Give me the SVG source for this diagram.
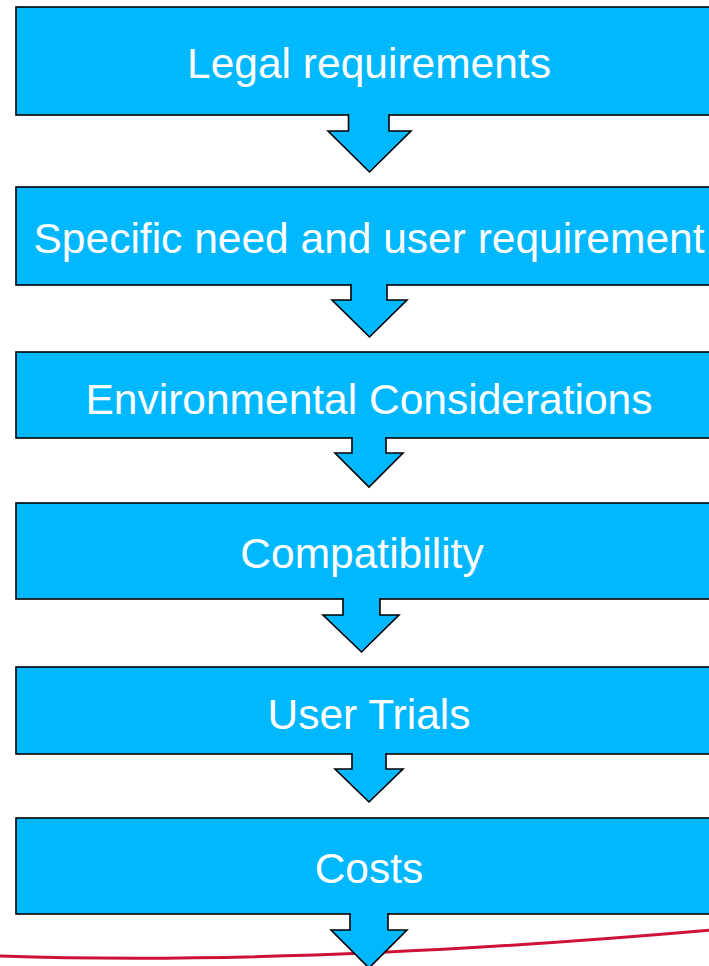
<svg xmlns="http://www.w3.org/2000/svg" width="709" height="966" viewBox="0 0 709 966">
<style>
.box{fill:#00B8FF;stroke:#000;stroke-width:1.6}
.lbl{font-family:"Liberation Sans",Arial,sans-serif;font-size:42.5px;fill:#fff;text-anchor:middle}
.arr{fill:#00B8FF;stroke:#000;stroke-width:1.6;stroke-linejoin:miter}
</style>
<rect x="0" y="0" width="709" height="966" fill="#fff"/>
<g id="node-legal"><rect class="box" x="16" y="7" width="706" height="108"/><text class="lbl" x="369" y="78">Legal requirements</text></g>
<g id="node-specific"><rect class="box" x="16" y="187" width="706" height="98"/><text class="lbl" x="369" y="253">Specific need and user requirement</text></g>
<g id="node-environmental"><rect class="box" x="16" y="352" width="706" height="86"/><text class="lbl" x="369" y="414">Environmental Considerations</text></g>
<g id="node-compatibility"><rect class="box" x="16" y="503" width="706" height="96"/><text class="lbl" x="362" y="568">Compatibility</text></g>
<g id="node-usertrials"><rect class="box" x="16" y="667" width="706" height="87"/><text class="lbl" x="369" y="729">User Trials</text></g>
<g id="node-costs"><rect class="box" x="16" y="818" width="706" height="96"/><text class="lbl" x="369" y="883">Costs</text></g>
<path d="M0,956 Q300,966 712,930" fill="none" stroke="#CF1238" stroke-width="3"/>
<g id="connectors">
<path class="arr" d="M348.5,114 L348.5,131 L328,131 L369.5,172 L411,131 L389,131 L389,114"/>
<path class="arr" d="M351,284 L351,300 L332,300 L369.5,337 L407,300 L387,300 L387,284"/>
<path class="arr" d="M352,437 L352,453 L335,453 L369,487 L403,453 L386,453 L386,437"/>
<path class="arr" d="M343,598 L343,615 L323,615 L361.5,652 L399,615 L380,615 L380,598"/>
<path class="arr" d="M352,753 L352,769 L335,769 L369,802 L403,769 L386,769 L386,753"/>
<path class="arr" d="M350,913 L350,930 L331,930 L369,968 L407,930 L388,930 L388,913"/>
</g>
</svg>
